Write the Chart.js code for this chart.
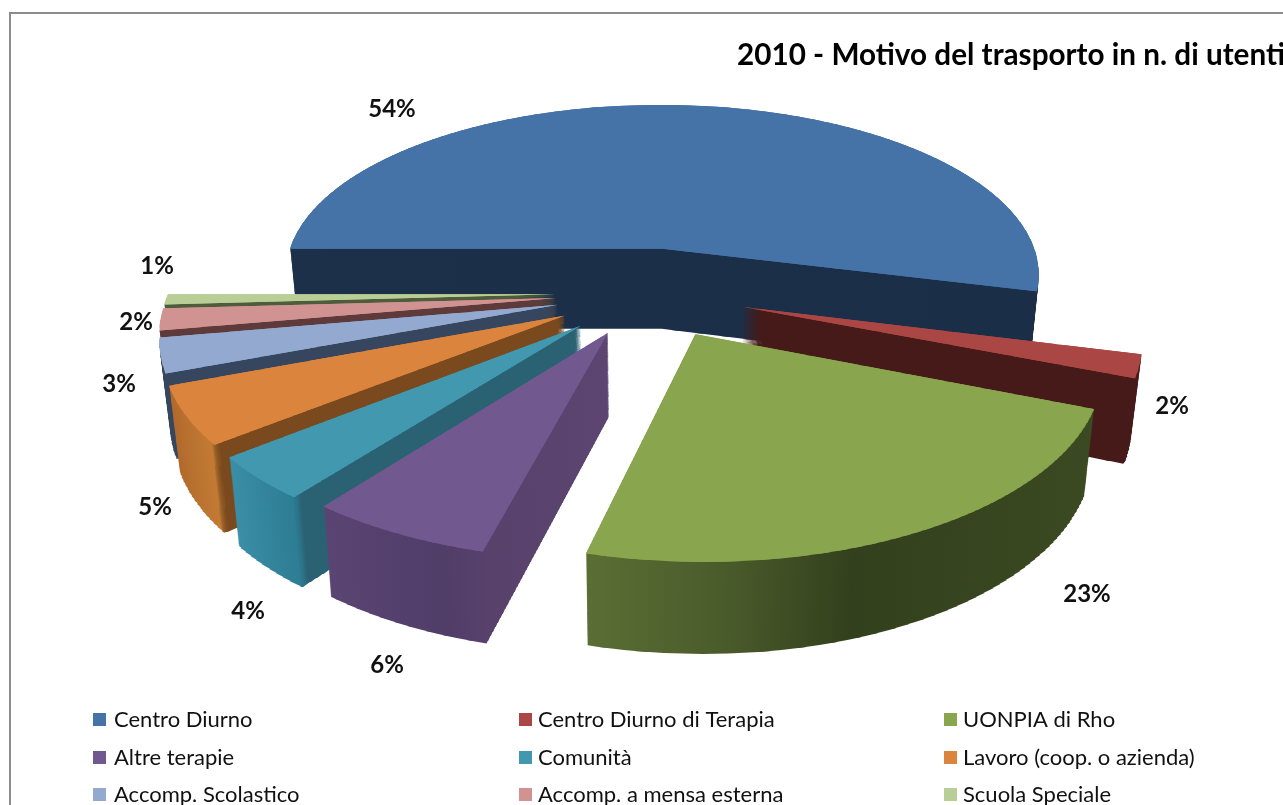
<!DOCTYPE html>
<html><head><meta charset="utf-8">
<style>html,body{margin:0;padding:0;background:#fff;overflow:hidden}
#wrap{position:absolute;left:0;top:0;width:1283px;height:805px;overflow:hidden}
#frame{position:absolute;left:9px;top:12px;width:1300px;height:830px;border:2px solid #8c8c8c}
canvas{position:absolute;left:0;top:0}</style>
<script src="https://cdn.jsdelivr.net/npm/chart.js@4/dist/chart.umd.min.js"></script>
</head><body><div id="wrap"><div id="frame"></div><canvas id="c" width="1283" height="805"></canvas></div>
<script>
const categories=["Centro Diurno","Centro Diurno di Terapia","UONPIA di Rho","Altre terapie","Comunità","Lavoro (coop. o azienda)","Accomp. Scolastico","Accomp. a mensa esterna","Scuola Speciale"];
const percentValues=[54,2,23,6.4,3.8,5,3,1.9,0.9];
const chartTitle="2010 - Motivo del trasporto in n. di utenti";
const topColors=["#4572A7","#AA4643","#89A54E","#71588F","#4198AF","#DB843D","#93A9CF","#D19392","#B9CD96"];
const sideStops=[
 [[0,"#1c3049"],[1,"#1a2e47"]],
 [[0,"#451a18"],[1,"#451a18"]],
 [[0,"#5a6e34"],[.25,"#4a5b2b"],[.48,"#33401d"],[1,"#3c4a22"]],
 [[0,"#5a4473"],[.45,"#503d68"],[.6,"#58426c"],[1,"#5c4570"]],
 [[0,"#3a8ea6"],[.215,"#2d7d94"],[.235,"#2a6173"],[1,"#2a6173"]],
 [[0,"#b0692b"],[.155,"#c27a34"],[.175,"#7a4a1e"],[1,"#7a4a1e"]],
 [[0,"#36465e"],[1,"#36465e"]],
 [[0,"#5e3a3a"],[1,"#5e3a3a"]],
 [[0,"#4f5c3c"],[1,"#4f5c3c"]]];
const drawOrder=[0,8,7,6,5,4,1,2,3];
const explode=[.26,.25,.25,.24,.25,.25,.245,.245,.245];
const labelPos=[[392,109],[1172,406],[1087,594],[387,665],[248,611],[155,507],[119,384],[136,322],[157,266]];
const legendCols=[93,519,944], legendTextX=[114,538,963], legendRows=[719,757,794];
const PV={cx:650,cy:293,rx:387,ry:178.5,p:.154,D0:82,q:.09,shrink:.022};

const pie3d={id:'pie3d',
 afterLayout(ch){const t=ch.titleBlock; t.left=737; t.right=1500; t.top=38; t.bottom=76;},
 beforeDatasetsDraw(ch){
  const ctx=ch.ctx, meta=ch.getDatasetMeta(0), els=meta.data, S=PV;
  const R=els[0].outerRadius, X0=els[0].x, Y0=els[0].y, W=ch.width;
  const proj=(v)=>{const w=1-S.p*v;return {sx:S.rx/(R*w),y:S.cy+S.ry*v/w,d:S.D0/(1-S.q*v)};};
  const paint=(el,i,t,fill,step)=>{
   const mid=(el.startAngle+el.endAngle)/2, e=explode[i], ox=Math.cos(mid)*e*R, oy=Math.sin(mid)*e*R;
   const angs=[el.startAngle,el.endAngle];
   for(let k=-4;k<=8;k++){const a=k*Math.PI/2; if(a>el.startAngle&&a<el.endAngle)angs.push(a);}
   let vmin=0,vmax=0; angs.forEach(a=>{const s=Math.sin(a);vmin=Math.min(vmin,s);vmax=Math.max(vmax,s);});
   vmin+=oy/R; vmax+=oy/R;
   const saved=el.options.backgroundColor;
   el.options.backgroundColor=fill;
   const dv=step/S.ry;
   for(let v=vmin-dv;v<vmax+dv;v+=dv){
    const a=proj(v), b=proj(v+dv);
    const sc=a.sx*(1-S.shrink*t);
    const ya=a.y+t*a.d, yb=b.y+t*b.d, k=(yb-ya)/(dv*R);
    const top=Math.floor(ya), h=Math.ceil(yb)-top;
    ctx.save();
    ctx.setTransform(1,0,0,1,0,0);
    ctx.beginPath(); ctx.rect(0,top,W,h); ctx.clip();
    ctx.setTransform(sc,0,0,k,S.cx-X0*sc,ya-(Y0+v*R)*k);
    ctx.translate(ox,oy);
    el.draw(ctx);
    ctx.restore();
   }
   el.options.backgroundColor=saved;
  };
  const layers=90;
  drawOrder.forEach(i=>{
   const el=els[i];
   const xs=[0,Math.cos(el.startAngle),Math.cos(el.endAngle)];
   for(let k=-4;k<=8;k++){const a=k*Math.PI; if(a>el.startAngle&&a<el.endAngle)xs.push(Math.cos(a));}
   const l=Math.min(...xs), r=Math.max(...xs);
   const gr=ctx.createLinearGradient(X0+l*R,0,X0+r*R,0);
   sideStops[i].forEach(s=>gr.addColorStop(s[0],s[1]));
   for(let n=layers;n>=1;n--) paint(el,i,n/layers,gr,3);
   paint(el,i,0,topColors[i],1);
  });
  ctx.save(); ctx.setTransform(1,0,0,1,0,0);
  ctx.fillStyle="#111"; ctx.font="bold 24px Lato"; ctx.textAlign="center"; ctx.textBaseline="middle";
  const sum=percentValues.reduce((a,b)=>a+b,0);
  percentValues.forEach((v,i)=>ctx.fillText(Math.round(v/sum*100)+"%",labelPos[i][0],labelPos[i][1]));
  ctx.font="22px Lato"; ctx.textAlign="left";
  categories.forEach((c,i)=>{
   const cIdx=i%3, y=legendRows[Math.floor(i/3)];
   ctx.fillStyle=topColors[i]; ctx.fillRect(legendCols[cIdx],y-6,13,13);
   ctx.fillStyle="#111"; ctx.fillText(c,legendTextX[cIdx],y+1);
  });
  ctx.restore();
  return false;
 }};

new Chart(document.getElementById('c'),{type:'pie',
 data:{labels:categories,datasets:[{data:percentValues,backgroundColor:topColors,borderWidth:0}]},
 options:{responsive:false,animation:false,rotation:270,
  layout:{padding:{top:120,left:300,right:300,bottom:120}},
  plugins:{legend:{display:false},tooltip:{enabled:false},
   title:{display:true,text:chartTitle,align:'start',color:'#000',font:{family:'Lato',size:29.7,weight:'bold'},padding:0}}},
 plugins:[pie3d]});
</script></body></html>
